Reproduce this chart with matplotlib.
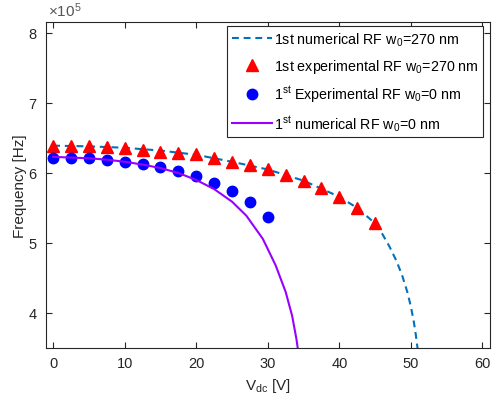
import matplotlib
matplotlib.use("Agg")
import matplotlib.pyplot as plt
import numpy as np

plt.rcParams['font.family'] = ['Liberation Sans', 'DejaVu Sans']
plt.rcParams['mathtext.fontset'] = 'custom'
plt.rcParams['mathtext.rm'] = 'Liberation Sans'
plt.rcParams['mathtext.it'] = 'Liberation Sans'
plt.rcParams['mathtext.default'] = 'regular'

# frequencies in units of 1e5 Hz
v_tri = [0, 2.5, 5, 7.5, 10, 12.5, 15, 17.5, 20, 22.5, 25, 27.5, 30,
         32.5, 35, 37.5, 40, 42.5, 45]
f_tri = [6.39, 6.39, 6.38, 6.37, 6.35, 6.33, 6.30, 6.29, 6.27, 6.21, 6.16,
         6.12, 6.05, 5.97, 5.89, 5.78, 5.66, 5.50, 5.29]

v_dot = [0, 2.5, 5, 7.5, 10, 12.5, 15, 17.5, 20, 22.5, 25, 27.5, 30]
f_dot = [6.22, 6.22, 6.21, 6.19, 6.16, 6.13, 6.08, 6.03, 5.95, 5.86, 5.74,
         5.59, 5.37]

v_num270 = [0, 5, 10, 15, 20, 25, 30, 35, 40, 42.5, 45, 46, 47, 48,
            48.8, 49.5, 50.0, 50.4, 50.7, 50.9, 51.05]
f_num270 = [6.39, 6.38, 6.36, 6.32, 6.26, 6.16, 6.05, 5.89, 5.66, 5.50, 5.28,
            5.13, 4.95, 4.74, 4.53, 4.30, 4.09, 3.88, 3.68, 3.52, 3.40]

v_num0 = [0, 5, 7.5, 10, 12.5, 15, 17.5, 20, 22.5, 25, 27, 29.3, 31.1, 32.5,
          33.4, 34.0, 34.25]
f_num0 = [6.23, 6.21, 6.19, 6.16, 6.12, 6.07, 6.00, 5.90, 5.77, 5.59, 5.39,
          5.06, 4.68, 4.30, 3.96, 3.63, 3.45]

labels = ['1st numerical RF w$_0$=270 nm',
          '1st experimental RF w$_0$=270 nm',
          '1$^{st}$ Experimental RF w$_0$=0 nm',
          '1$^{st}$ numerical RF w$_0$=0 nm']

scale = 1e5
dark = '#262626'

fig = plt.figure(figsize=(4.92, 4.10), dpi=100)
ax = fig.add_axes([0.0935, 0.1488, 0.9016, 0.794])

ax.plot(v_num270, np.array(f_num270) * scale, color='#0072BD', lw=1.5,
        linestyle=(0, (3.3, 2.3)), label=labels[0])
ax.plot(v_tri, np.array(f_tri) * scale, '^', color='red', ms=8.5,
        linestyle='none', label=labels[1])
ax.plot(v_dot, np.array(f_dot) * scale, 'o', color='blue', ms=7.5,
        linestyle='none', label=labels[2])
ax.plot(v_num0, np.array(f_num0) * scale, color='#9900FF', lw=1.5,
        label=labels[3])

ax.set_xlim(-1, 61)
ax.set_ylim(3.5e5, 8.15e5)
ax.set_xticks(np.arange(0, 61, 10))
ax.set_yticks(np.arange(4, 9) * scale)
ax.ticklabel_format(style='sci', axis='y', scilimits=(0, 0), useMathText=True)
ax.yaxis.get_offset_text().set_visible(False)
ax.text(0.004, 1.012, r'$\times$10$^5$', transform=ax.transAxes,
        fontsize=11, color='#555555', ha='left', va='bottom')

ax.tick_params(direction='in', top=True, right=True, length=4, width=0.8,
               colors=dark, labelsize=10.5, pad=6)
for s in ax.spines.values():
    s.set_color(dark)
    s.set_linewidth(0.8)

ax.set_xlabel('V$_{dc}$ [V]', fontsize=11, color=dark)
ax.set_ylabel('Frequency [Hz]', fontsize=11, color=dark, labelpad=1)

leg = ax.legend(loc='upper right', bbox_to_anchor=(0.985, 0.989),
                borderaxespad=0, fontsize=10.3, fancybox=False,
                framealpha=1, edgecolor=dark, handlelength=2.8,
                handletextpad=0.15, labelspacing=0.62, borderpad=0.3)
leg.get_frame().set_linewidth(0.8)

fig.savefig('out.png', dpi=100)
